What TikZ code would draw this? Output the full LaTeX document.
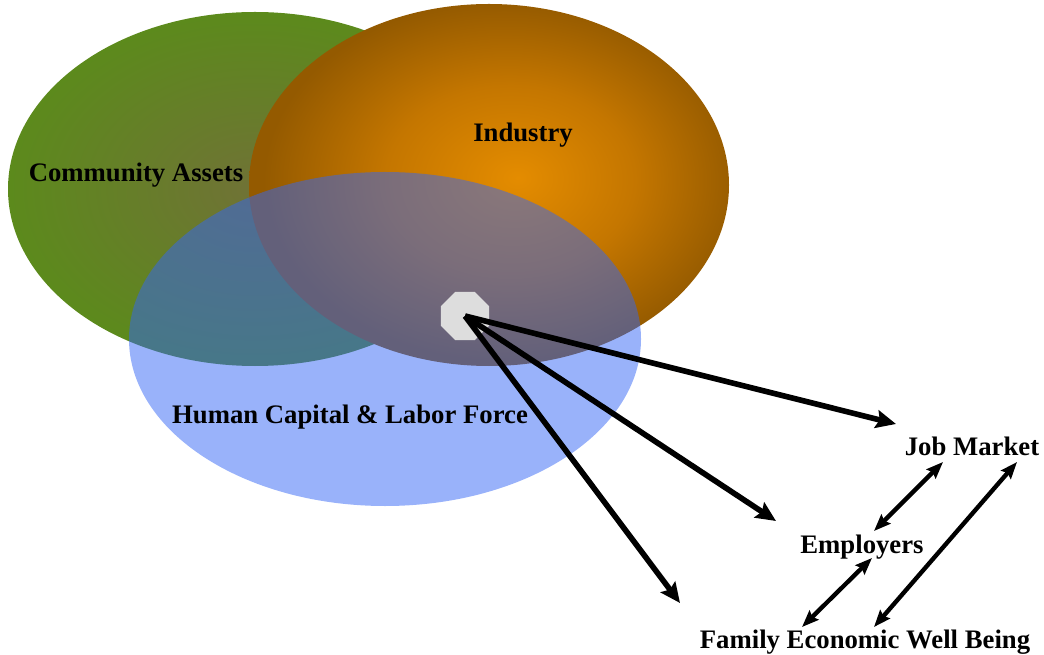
\documentclass[tikz,border=0pt]{standalone}
\usepackage{fontspec}
\setmainfont{Liberation Serif}
\usetikzlibrary{arrows.meta, shapes.geometric}
\definecolor{leafgreen}{RGB}{92,138,28}
\definecolor{olivecore}{RGB}{112,114,54}
\definecolor{rustedge}{RGB}{148,90,0}
\definecolor{ambermid}{RGB}{196,118,0}
\definecolor{ambercore}{RGB}{228,140,0}
\definecolor{poolblue}{RGB}{51,102,245}
\definecolor{hubgrey}{RGB}{221,221,221}
% radial glows for the two back ellipses
\pgfdeclareradialshading{oliveglow}{\pgfpoint{0bp}{0bp}}{color(0bp)=(olivecore); color(25bp)=(leafgreen); color(50bp)=(leafgreen)}
\pgfdeclareradialshading{amberglow}{\pgfpoint{3bp}{1bp}}{color(0bp)=(ambercore); color(13bp)=(ambermid); color(25bp)=(rustedge); color(50bp)=(rustedge)}

\begin{document}
\begin{tikzpicture}[x=0.025cm, y=-0.025cm,
    lbl/.style={font=\fontsize{19}{22}\selectfont\bfseries, inner sep=0pt, anchor=base},
    hubstyle/.style={regular polygon, regular polygon sides=8, fill=hubgrey, minimum size=1.3cm, inner sep=0pt},
    arrow/.style={-{Stealth[length=0.5cm, width=0.45cm, inset=0.08cm]}, line width=4pt},
    twoway/.style={{Stealth[length=0.42cm, width=0.32cm, inset=0.06cm]}-{Stealth[length=0.42cm, width=0.32cm, inset=0.06cm]}, line width=3.1pt}
]
\useasboundingbox (0,0) rectangle (1044,655);

% the three circles
\shade[shading=oliveglow] (255,189) ellipse [x radius=247, y radius=177];
\shade[shading=amberglow] (489,185) ellipse [x radius=240, y radius=181];
\fill[poolblue, fill opacity=0.5] (385,339) ellipse [x radius=256, y radius=167];

\node[lbl] (assets) at (136,182) {Community Assets};
\node[lbl] (industry) at (523,142) {Industry};
\node[lbl] (humancap) at (350,423) {Human Capital \& Labor Force};
\node[hubstyle] (hub) at (465,316) {};

\node[lbl] (jobmarket) at (972,455) {Job Market};
\node[lbl] (employers) at (862,553) {Employers};
\node[lbl] (wellbeing) at (865,648) {Family Economic Well Being};

% arrow ends
\coordinate (jobend) at (896,424);
\coordinate (empend) at (776,521);
\coordinate (famend) at (680,603);
\coordinate (jm-a) at (943,462);
\coordinate (jm-b) at (1017,462);
\coordinate (em-a) at (874,531);
\coordinate (em-b) at (872,558);
\coordinate (fw-a) at (802,627);
\coordinate (fw-b) at (874,627);

\draw[arrow] (hub.center) -- (jobend);
\draw[arrow] (hub.center) -- (empend);
\draw[arrow] (hub.center) -- (famend);

\draw[twoway] (em-a) -- (jm-a);
\draw[twoway] (fw-b) -- (jm-b);
\draw[twoway] (fw-a) -- (em-b);

\end{tikzpicture}
\end{document}
